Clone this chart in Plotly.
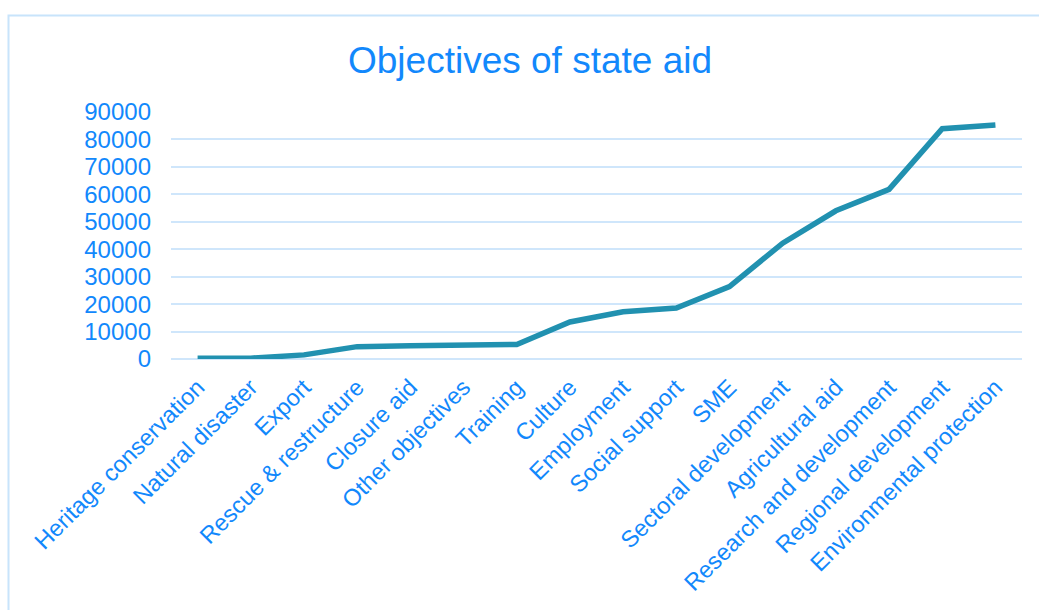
import plotly.graph_objects as go

categories = ["Heritage conservation", "Natural disaster", "Export", "Rescue & restructure",
              "Closure aid", "Other objectives", "Training", "Culture", "Employment",
              "Social support", "SME", "Sectoral development", "Agricultural aid",
              "Research and development", "Regional development", "Environmental protection"]
values = [300, 300, 1500, 4500, 4800, 5000, 5300, 13500, 17200, 18600,
          26400, 42200, 54000, 61800, 83900, 85300]
y_ticks = [0, 10000, 20000, 30000, 40000, 50000, 60000, 70000, 80000, 90000]

text_color = "#1288fc"
grid_color = "#cfe6fb"
line_color = "#2191b0"
font = "Liberation Sans, Arial, sans-serif"

fig = go.Figure()
fig.add_trace(go.Scatter(x=categories, y=values, mode="lines",
                         line=dict(color=line_color, width=5.5)))

fig.update_layout(
    width=1039, height=610,
    margin=dict(l=171, r=17, t=112, b=251),
    paper_bgcolor="white", plot_bgcolor="white",
    showlegend=False,
    title=dict(text="Objectives of state aid", x=530 / 1039, xanchor="center",
               y=1 - 60 / 610, yanchor="middle",
               font=dict(family=font, size=37, color=text_color)),
    font=dict(family=font, color=text_color),
    shapes=[dict(type="rect", xref="paper", yref="paper",
                 x0=(8.5 - 171) / 851, x1=1.2, y0=-1.5, y1=(359 - 15.5) / 247,
                 line=dict(color="#c8e4fb", width=2), fillcolor="rgba(0,0,0,0)",
                 layer="below")],
)
fig.update_xaxes(type="category", range=[-0.5, 15.5], tickangle=-45,
                 tickfont=dict(family=font, size=23.5, color=text_color),
                 showgrid=False, showline=False, ticks="", zeroline=False,
                 ticklabelstandoff=9)
fig.update_yaxes(range=[0, 90000], tickvals=y_ticks, ticktext=[str(v) for v in y_ticks],
                 tickfont=dict(family=font, size=24, color=text_color),
                 showgrid=True, gridcolor=grid_color, gridwidth=2,
                 zeroline=True, zerolinecolor=grid_color, zerolinewidth=2,
                 showline=False, ticks="", ticklabelstandoff=19)

fig.write_html("out.html", config={"displayModeBar": False},
               post_script="document.body.style.margin='0';")
